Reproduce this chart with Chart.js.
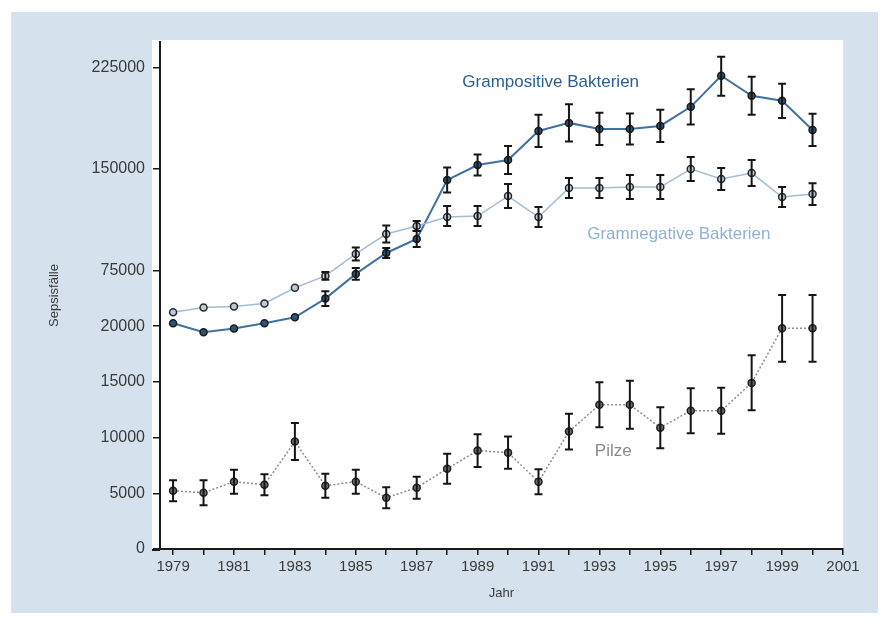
<!DOCTYPE html>
<html>
<head>
<meta charset="utf-8">
<script src="https://cdn.jsdelivr.net/npm/chart.js@4.4.0/dist/chart.umd.min.js"></script>
<style>
  html, body { margin: 0; padding: 0; background: #fff; }
  #wrap { width: 888px; height: 626px; }
</style>
</head>
<body>
<div id="wrap"><canvas id="myChart" width="888" height="626"></canvas></div>
<script>
// Jahre 1979 - 2000
let jahre = [1979, 1980, 1981, 1982, 1983, 1984, 1985, 1986, 1987, 1988, 1989,
  1990, 1991, 1992, 1993, 1994, 1995, 1996, 1997, 1998, 1999, 2000];

// Y-Achse mit Bruch: Ticks
let yTicks = [0, 5000, 10000, 15000, 20000, 75000, 150000, 225000];
let xTicks = [1979, 1980, 1981, 1982, 1983, 1984, 1985, 1986, 1987, 1988, 1989, 1990,
  1991, 1992, 1993, 1994, 1995, 1996, 1997, 1998, 1999, 2000, 2001];

let grampositiv = [22900, 19460, 19800, 22900, 28760, 47260, 71600, 87930, 98280, 141870, 152970,
  156680, 178220, 184160, 179700, 179700, 181930, 196040, 219060, 204210, 200500, 178960];
let grampositivMin = [null, null, null, null, null, 39960, 65750, 84240, 92360, 132640, 145200,
  146310, 166340, 170420, 167820, 168190, 170050, 183040, 204210, 190100, 187870, 167080];
let grampositivMax = [null, null, null, null, null, 54560, 76850, 91630, 104190, 151110, 160770,
  167080, 190100, 197900, 191580, 191200, 193810, 209030, 233170, 218320, 213120, 190840];

let gramnegativ = [33630, 38500, 39470, 42390, 57960, 69650, 87190, 101970, 107880, 114500, 115270,
  130050, 114530, 135960, 135960, 136700, 136700, 150000, 142610, 147040, 129310, 131530];
let gramnegativMin = [null, null, null, null, null, 65750, 82390, 95690, 104190, 107880, 107880,
  121180, 107140, 128570, 128570, 127830, 127830, 141130, 134480, 137440, 121920, 123400];
let gramnegativMax = [null, null, null, null, null, 73540, 92000, 108250, 111580, 122660, 122660,
  138920, 121920, 143350, 143350, 145570, 145570, 158910, 150740, 156680, 136700, 139600];

let pilze = [5230, 5050, 6040, 5770, 9640, 5680, 6040, 4600, 5500, 7210, 8830,
  8650, 6040, 10540, 12950, 12950, 10890, 12410, 12410, 14910, 19820, 19820];
let pilzeMin = [4290, 3930, 4960, 4830, 7980, 4600, 4960, 3660, 4510, 5860, 7350,
  7210, 4920, 8930, 10930, 10800, 9050, 10390, 10340, 12450, 16810, 16810];
let pilzeMax = [6170, 6170, 7120, 6710, 11300, 6760, 7120, 5540, 6490, 8560, 10310,
  10090, 7160, 12150, 14970, 15100, 12730, 14430, 14480, 17380, 50860, 50860];

// Abschnitte der gebrochenen Achse (Wert -> Einheit)
let bruchEinheiten = [0, 1, 2, 3, 4, 5, 6.82, 8.64];

function zuEinheit(v) {
  let n = yTicks.length;
  for (let i = 1; i < n; i++) {
    if (v <= yTicks[i] || i == n - 1) {
      let a = yTicks[i - 1], b = yTicks[i];
      return bruchEinheiten[i - 1] + (v - a) / (b - a) * (bruchEinheiten[i] - bruchEinheiten[i - 1]);
    }
  }
}

class BruchSkala extends Chart.LinearScale {
  buildTicks() {
    return yTicks.map(v => ({ value: v }));
  }
  getPixelForValue(v) {
    if (v === null || v === undefined) return NaN;
    let lo = zuEinheit(this.min), hi = zuEinheit(this.max);
    return this.getPixelForDecimal((zuEinheit(v) - lo) / (hi - lo));
  }
}
BruchSkala.id = "bruch";
BruchSkala.defaults = Chart.LinearScale.defaults;
Chart.register(BruchSkala);

function punkte(werte) {
  return werte.map((v, i) => ({ x: jahre[i], y: v }));
}

///// Hintergrund /////
const hintergrund = {
  id: "hintergrund",
  beforeDraw(chart) {
    let ctx = chart.ctx;
    let a = chart.chartArea;
    ctx.save();
    ctx.fillStyle = "#ffffff";
    ctx.fillRect(0, 0, chart.width, chart.height);
    ctx.fillStyle = "#d5e2ee";
    ctx.fillRect(11, 12, 867, 601);
    ctx.fillStyle = "#ffffff";
    ctx.fillRect(a.left - 8, a.top - 2, a.right - a.left + 8, a.bottom - a.top + 2);
    ctx.restore();
  },
  afterDraw(chart) {
    // x-Achse ragt etwas links über die y-Achse hinaus
    let ctx = chart.ctx;
    let a = chart.chartArea;
    ctx.save();
    ctx.strokeStyle = "#1a1a1a";
    ctx.lineWidth = 2;
    ctx.beginPath();
    ctx.moveTo(a.left - 8, a.bottom + 1);
    ctx.lineTo(a.left, a.bottom + 1);
    ctx.stroke();
    ctx.restore();
  }
};

///// Fehlerbalken /////
const fehlerbalken = {
  id: "fehlerbalken",
  afterDatasetsDraw(chart) {
    let ctx = chart.ctx;
    let xs = chart.scales.x, ys = chart.scales.y;
    let reihen = [[pilzeMin, pilzeMax], [gramnegativMin, gramnegativMax], [grampositivMin, grampositivMax]];
    ctx.save();
    ctx.strokeStyle = "#151515";
    ctx.lineWidth = 2;
    reihen.forEach(([mins, maxs]) => {
      jahre.forEach((j, i) => {
        if (mins[i] == null) return;
        let x = xs.getPixelForValue(j);
        let y1 = ys.getPixelForValue(mins[i]);
        let y2 = ys.getPixelForValue(maxs[i]);
        ctx.beginPath();
        ctx.moveTo(x, y1); ctx.lineTo(x, y2);
        ctx.moveTo(x - 4, y1); ctx.lineTo(x + 4, y1);
        ctx.moveTo(x - 4, y2); ctx.lineTo(x + 4, y2);
        ctx.stroke();
      });
    });
    ctx.restore();
  }
};

///// Beschriftungen der Reihen /////
const beschriftung = {
  id: "beschriftung",
  afterDatasetsDraw(chart) {
    let ctx = chart.ctx;
    let xs = chart.scales.x, ys = chart.scales.y;
    let texte = [
      { text: "Grampositive Bakterien", x: 1988.5, y: 213900, farbe: "#2a5f92" },
      { text: "Gramnegative Bakterien", x: 1992.6, y: 102000, farbe: "#8fb1d3" },
      { text: "Pilze", x: 1992.85, y: 8740, farbe: "#8a8a8a" }
    ];
    ctx.save();
    ctx.font = "17px 'Liberation Sans', Arial, sans-serif";
    ctx.textBaseline = "middle";
    ctx.textAlign = "left";
    texte.forEach(t => {
      ctx.fillStyle = t.farbe;
      ctx.fillText(t.text, xs.getPixelForValue(t.x), ys.getPixelForValue(t.y));
    });
    ctx.restore();
  }
};

function renderGrafica() {
  const ctx = document.getElementById("myChart");
  const config = {
    type: "line",
    data: {
      datasets: [
        {
          label: "Pilze",
          data: punkte(pilze),
          borderColor: "#8c8c8c",
          borderWidth: 1.5,
          borderDash: [2, 2],
          pointRadius: 3.5,
          pointBackgroundColor: "#6b6b6b",
          pointBorderColor: "#202020",
          pointBorderWidth: 1.5,
          tension: 0
        },
        {
          label: "Gramnegative Bakterien",
          data: punkte(gramnegativ),
          borderColor: "#a3bcd4",
          borderWidth: 1.5,
          pointRadius: 3.5,
          pointBackgroundColor: "#bccbdb",
          pointBorderColor: "#2a2a2a",
          pointBorderWidth: 1.5,
          tension: 0
        },
        {
          label: "Grampositive Bakterien",
          data: punkte(grampositiv),
          borderColor: "#3f729f",
          borderWidth: 2,
          pointRadius: 3.5,
          pointBackgroundColor: "#2e5578",
          pointBorderColor: "#1a1a1a",
          pointBorderWidth: 1.5,
          tension: 0
        }
      ]
    },
    options: {
      responsive: false,
      animation: false,
      devicePixelRatio: 1,
      layout: { padding: { top: 42, right: 45, left: 0, bottom: 0 } },
      plugins: { legend: { display: false }, tooltip: { enabled: false } },
      scales: {
        x: {
          type: "linear",
          min: 1978.57,
          max: 2001,
          afterBuildTicks: s => { s.ticks = xTicks.map(v => ({ value: v })); },
          afterFit: s => { s.height = 77; },
          ticks: {
            autoSkip: false,
            maxRotation: 0,
            padding: 3,
            color: "#3a3a3a",
            font: { size: 15, family: "'Liberation Sans', Arial, sans-serif" },
            callback: v => (v % 2 == 1 ? String(v) : "")
          },
          grid: { drawOnChartArea: false, drawTicks: true, tickLength: 6, color: "#1a1a1a", lineWidth: 1.5 },
          border: { display: true, color: "#1a1a1a", width: 2 },
          title: {
            display: true,
            text: "Jahr",
            color: "#3a3a3a",
            font: { size: 13, family: "'Liberation Sans', Arial, sans-serif" },
            padding: { top: 0, bottom: 25 }
          }
        },
        y: {
          type: "bruch",
          min: 0,
          max: 244000,
          afterFit: s => { s.width = 160; },
          ticks: {
            padding: 8,
            color: "#3a3a3a",
            font: { size: 16, family: "'Liberation Sans', Arial, sans-serif" },
            callback: v => String(v)
          },
          grid: { drawOnChartArea: false, drawTicks: true, tickLength: 7, color: "#1a1a1a", lineWidth: 1.5 },
          border: { display: true, color: "#1a1a1a", width: 2 },
          title: {
            display: true,
            text: "Sepsisfälle",
            color: "#3a3a3a",
            font: { size: 13, family: "'Liberation Sans', Arial, sans-serif" },
            padding: { top: 47, bottom: 0 }
          }
        }
      }
    },
    plugins: [hintergrund, fehlerbalken, beschriftung]
  };
  new Chart(ctx, config);
}

renderGrafica();
</script>
</body>
</html>
